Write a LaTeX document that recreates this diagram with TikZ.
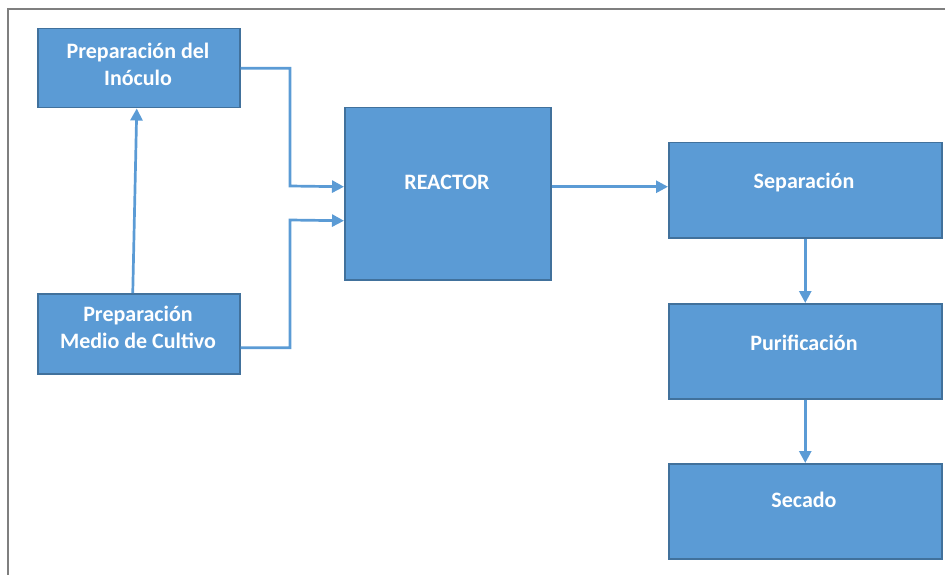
\documentclass[tikz,border=0pt]{standalone}
\usepackage{fontspec}
\setmainfont{Carlito}
\usetikzlibrary{arrows.meta,calc}
\definecolor{boxfill}{HTML}{5B9BD5}
\definecolor{boxline}{HTML}{41719C}
\definecolor{flow}{HTML}{5B9BD5}
\definecolor{frameline}{HTML}{7F7F7F}
\tikzset{
  stagebox/.style={draw=boxline, line width=1.5pt, fill=boxfill, inner sep=0pt, anchor=north west},
  stagetext/.style={text=white, font=\fontsize{22}{27}\selectfont\bfseries, align=center, inner sep=0pt},
  flowarrow/.style={draw=flow, line width=2.7pt, -{Triangle[length=12pt,width=12pt]}},
}
\begin{document}
\begin{tikzpicture}[x=1pt,y=-1pt]
  \useasboundingbox (0,0) rectangle (945,575);
  % outer frame (top and left edges)
  \draw[frameline, line width=2pt] (8,575) -- (8,9) -- (945,9);

  % process stages
  \node[stagebox, minimum width=202pt, minimum height=79pt] (inoc) at (37,28) {};
  \node[stagebox, minimum width=202pt, minimum height=80pt] (medio) at (37,293) {};
  \node[stagebox, minimum width=206pt, minimum height=172pt] (reactor) at (344,107) {};
  \node[stagebox, minimum width=273pt, minimum height=95pt] (sep) at (668,142) {};
  \node[stagebox, minimum width=273pt, minimum height=95pt] (puri) at (668,303) {};
  \node[stagebox, minimum width=273pt, minimum height=95pt] (secado) at (668,463) {};

  % labels
  \node[stagetext] (tinoc) at (138,64) {Preparación del\\Inóculo};
  \node[stagetext] (tmedio) at (138,327) {Preparación\\Medio de Cultivo};
  \node[stagetext] (treactor) at (447,182) {REACTOR};
  \node[stagetext] (tsep) at (804,183) {Separación};
  \node[stagetext] (tpuri) at (804,343) {Purificación};
  \node[stagetext] (tsecado) at (804,500) {Secado};

  % connectors
  \draw[flowarrow] ([xshift=-6pt]medio.north) -- ([xshift=-2pt]inoc.south);
  \draw[flowarrow] (inoc.east) -| (290,186) -- ([yshift=7pt]reactor.west);
  \draw[flowarrow] ([yshift=-14pt]medio.east) -| (290,220) -- ([yshift=-27pt]reactor.west);
  \draw[flowarrow] ([yshift=7pt]reactor.east) -- ([yshift=7pt]reactor.east -| sep.west);
  \draw[flowarrow] (sep.south) -- (puri.north);
  \draw[flowarrow] (puri.south) -- (secado.north);
\end{tikzpicture}
\end{document}
